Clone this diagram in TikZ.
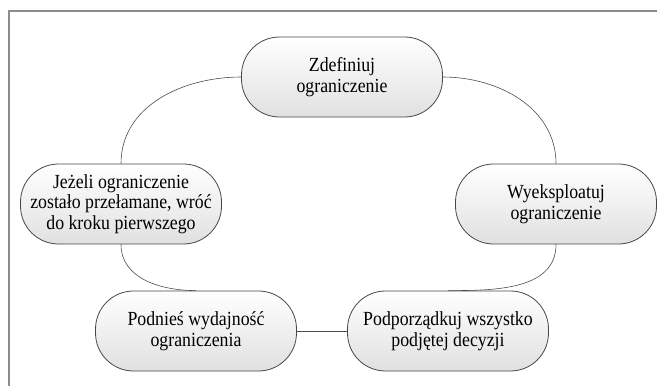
\documentclass[tikz,border=0pt]{standalone}
\usepackage{fontspec}
\setmainfont{Liberation Serif}[FakeStretch=0.89]
\begin{document}
\begin{tikzpicture}[x=1pt,y=-1pt,
  stage/.style={draw=black!72, line width=0.8pt, rounded corners=38pt,
    top color=white, bottom color=black!12, minimum width=201pt, minimum height=80pt,
    inner sep=0pt, align=center, font=\fontsize{20}{20.5}\selectfont, text=black},
  link/.style={draw=black!70, line width=0.6pt}]
\useasboundingbox (0,0) rectangle (657,386);
\draw[black!45, line width=1.8pt] (9,390) -- (9,11) -- (660,11);
\node[stage] (top) at (342,77) {Zdefiniuj\\ograniczenie};
\node[stage] (right) at (556,204) {Wyeksploatuj\\ograniczenie};
\node[stage] (left) at (121,204) {Jeżeli ograniczenie\\zostało przełamane, wróć\\do kroku pierwszego};
\node[stage] (bl) at (196,331) {Podnieś wydajność\\ograniczenia};
\node[stage] (br) at (448,331) {Podporządkuj wszystko\\podjętej decyzji};
\draw[link] (top.west) to[out=180,in=90] (left.north);
\draw[link] (top.east) to[out=0,in=90] (right.north);
\draw[link] (right.south) to[out=-90,in=0] (br.north);
\draw[link] (left.south) to[out=-90,in=180] (bl.north);
\draw[link] (bl.east) -- (br.west);
\end{tikzpicture}
\end{document}
